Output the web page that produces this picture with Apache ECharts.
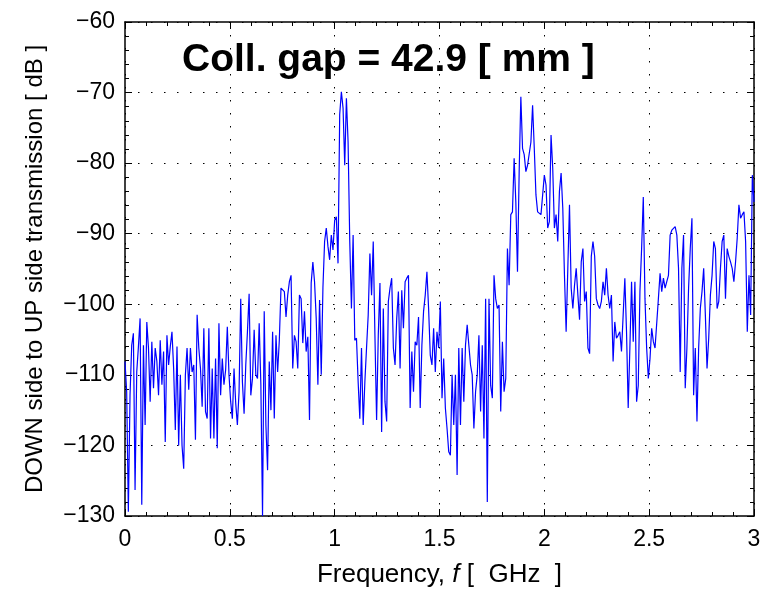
<!DOCTYPE html>
<html>
<head>
<meta charset="utf-8">
<script src="https://cdn.jsdelivr.net/npm/echarts@6/dist/echarts.min.js"></script>
<style>
  html, body { margin: 0; padding: 0; background: #fff; }
  #chart { width: 765px; height: 596px; }
</style>
</head>
<body>
<div id="chart"></div>
<script>
// sampling grid of the measured trace (GHz)
const freqStart = 0;
const freqStep = 0.008;

// transmission in dB, 0 .. ~1.02 GHz
const bandLow = [
  -108.1,-112.4,-129.4,-112.9,-105.8,-104.1,-126.3,-109.6,-106.0,-102.0,
  -128.4,-105.8,-117.1,-102.5,-106.2,-113.8,-105.3,-111.9,-106.2,-108.1,
  -112.9,-105.1,-111.4,-106.7,-119.5,-104.4,-108.6,-106.0,-103.9,-109.1,
  -117.8,-106.0,-120.0,-110.0,-120.0,-123.3,-110.0,-106.2,-112.1,-106.2,
  -109.6,-108.6,-119.2,-101.5,-106.2,-109.1,-114.5,-103.4,-115.2,-116.2,
  -103.4,-119.0,-109.1,-119.0,-107.7,-120.4,-102.7,-112.9,-107.7,-111.4,
  -109.3,-103.2,-110.0,-113.8,-116.2,-109.1,-114.0,-117.1,-112.4,-99.2,
  -111.0,-115.5,-108.6,-103.9,-98.5,-112.9,-110.5,-103.6,-110.0,-110.5,
  -102.7,-111.4,-130.0,-101.0,-117.1,-123.5,-108.1,-115.0,-103.9,-116.2,
  -104.4,-109.6,-105.1,-97.7,-97.5,-98.2,-101.8,-98.7,-96.8,-95.9,
  -109.1,-104.4,-105.3,-109.1,-98.7,-99.2,-105.5,-101.0,-106.7,-104.6,
  -116.4,-97.0,-94.0,-96.8,-102.0,-111.4,-99.4,-110.0,-97.7,-91.1,
  -89.2,-91.8,-93.7,-90.2,-92.3,-88.1,-87.6,-94.2
];

// ~1.02 .. ~1.97 GHz
const bandMid = [
  -73.1,-69.9,-72.2,-80.3,-70.8,-77.0,-91.1,-100.6,-90.2,-105.1,
  -104.8,-111.0,-116.2,-106.2,-117.1,-111.0,-106.2,-101.5,-92.8,-98.7,
  -91.1,-104.4,-116.4,-104.4,-97.0,-118.1,-100.6,-113.8,-116.6,-99.6,
  -97.7,-96.3,-106.2,-108.6,-102.0,-98.2,-109.1,-98.0,-103.4,-96.8,
  -96.3,-95.9,-114.7,-106.7,-112.4,-105.3,-105.8,-101.8,-114.7,-105.8,
  -101.0,-98.7,-95.4,-100.6,-107.2,-108.6,-103.4,-109.6,-103.9,-106.2,
  -99.6,-113.3,-107.7,-114.7,-117.6,-120.9,-121.4,-110.0,-117.1,-110.0,
  -124.2,-106.2,-117.1,-106.2,-113.8,-105.8,-102.9,-105.8,-108.6,-110.0,
  -117.6,-112.4,-110.0,-104.4,-115.2,-105.8,-119.0,-99.2,-128.0,-99.2,
  -111.5,-113.3,-95.9,-99.2,-100.6,-100.1,-115.2,-105.3,-112.4,-110.5,
  -92.1,-97.3,-87.3,-86.9,-79.3,-85.5,-95.4,-81.2,-70.6,-77.9,
  -78.8,-81.2,-80.3,-80.3,-77.0,-71.8,-77.9,-84.5,-86.9
];

// ~1.98 .. 3 GHz
const bandHigh = [
  -86.9,-87.3,-87.3,-81.7,-83.1,-89.2,-88.3,-76.0,-80.7,-89.2,
  -87.3,-91.1,-84.0,-81.4,-86.4,-95.9,-103.9,-94.9,-85.9,-97.7,
  -100.6,-97.3,-94.9,-98.7,-102.2,-94.0,-92.1,-99.6,-98.2,-106.2,
  -107.0,-93.2,-91.1,-93.2,-99.2,-100.1,-100.6,-99.6,-96.8,-98.7,
  -94.9,-98.7,-100.6,-98.7,-108.1,-102.5,-104.8,-104.4,-103.9,-106.7,
  -101.5,-96.3,-103.9,-114.7,-106.2,-96.8,-105.3,-96.8,-113.8,-111.5,
  -98.2,-92.1,-84.8,-99.2,-106.2,-110.5,-107.7,-103.4,-105.3,-106.2,
  -106.2,-99.2,-95.6,-98.2,-96.3,-97.7,-96.8,-95.9,-90.2,-89.5,
  -89.7,-89.0,-90.2,-94.9,-109.6,-94.9,-90.2,-111.9,-106.2,-97.7,
  -92.1,-87.8,-112.9,-106.2,-116.6,-106.2,-100.6,-98.2,-94.9,-101.5,
  -109.1,-104.8,-98.7,-95.9,-91.1,-92.1,-100.6,-99.6,-94.9,-91.1,
  -90.2,-99.2,-92.1,-93.2,-94.0,-94.9,-96.8,-94.0,-90.6,-85.9,
  -87.8,-87.3,-86.9,-91.1,-103.9,-95.9,-101.5,-81.7,-85.5
];

const gapLabel = 'Coll. gap = 42.9 [ mm ]';

const dbValues = bandLow.concat(bandMid, bandHigh);
const trace = dbValues.map((v, i) => [freqStart + i * freqStep, v]);

const chart = echarts.init(document.getElementById('chart'), null, { renderer: 'canvas' });

const fontFam = '"Liberation Sans", Arial, Helvetica, sans-serif';
const gridDots = { color: '#000', width: 1, type: [1.5, 11.5] };

const option = {
  animation: false,
  backgroundColor: '#fff',
  title: {
    text: gapLabel,
    left: 177,
    top: 36,
    textStyle: { fontFamily: fontFam, fontSize: 39, fontWeight: 'bold', color: '#000' }
  },
  grid: { left: 125, right: 11, top: 22, bottom: 80 },
  xAxis: [{
    type: 'value',
    min: 0, max: 3, interval: 0.5,
    name: '{n|Frequency, }{i|f}{n| [  GHz  ]}',
    nameLocation: 'middle',
    nameGap: 46,
    nameTextStyle: {
      rich: {
        n: { fontFamily: fontFam, fontSize: 26, color: '#000' },
        i: { fontFamily: fontFam, fontSize: 26, color: '#000', fontStyle: 'italic' }
      }
    },
    axisLine: { show: true, onZero: false, lineStyle: { color: '#000', width: 1.5 } },
    axisTick: { inside: true, length: 7, lineStyle: { color: '#000' } },
    minorTick: { show: true, splitNumber: 5, length: 4, lineStyle: { color: '#000' } },
    axisLabel: { margin: 12, fontFamily: fontFam, fontSize: 23, color: '#000' },
    splitLine: { show: true, lineStyle: gridDots }
  }, {
    type: 'value',
    position: 'top',
    min: 0, max: 3, interval: 0.5,
    axisLine: { show: true, onZero: false, lineStyle: { color: '#000', width: 1.5 } },
    axisTick: { inside: true, length: 7, lineStyle: { color: '#000' } },
    minorTick: { show: true, splitNumber: 5, length: 4, lineStyle: { color: '#000' } },
    axisLabel: { show: false },
    splitLine: { show: false }
  }],
  yAxis: [{
    type: 'value',
    min: -130, max: -60, interval: 10,
    name: 'DOWN side to UP side transmission [ dB ]',
    nameLocation: 'middle',
    nameGap: 78,
    nameTextStyle: { fontFamily: fontFam, fontSize: 24, color: '#000' },
    axisLine: { show: true, onZero: false, lineStyle: { color: '#000', width: 1.5 } },
    axisTick: { inside: true, length: 7, lineStyle: { color: '#000' } },
    minorTick: { show: true, splitNumber: 5, length: 4, lineStyle: { color: '#000' } },
    axisLabel: {
      margin: 10, fontFamily: fontFam, fontSize: 23, color: '#000',
      formatter: v => String(v).replace('-', '\u2212')
    },
    splitLine: { show: true, lineStyle: gridDots }
  }, {
    type: 'value',
    position: 'right',
    min: -130, max: -60, interval: 10,
    axisLine: { show: true, onZero: false, lineStyle: { color: '#000', width: 1.5 } },
    axisTick: { inside: true, length: 7, lineStyle: { color: '#000' } },
    minorTick: { show: true, splitNumber: 5, length: 4, lineStyle: { color: '#000' } },
    axisLabel: { show: false },
    splitLine: { show: false }
  }],
  series: [{
    type: 'line',
    data: trace,
    xAxisIndex: 0,
    yAxisIndex: 0,
    showSymbol: false,
    clip: true,
    lineStyle: { color: '#0000ff', width: 1.2 }
  }]
};

chart.setOption(option);
</script>
</body>
</html>
